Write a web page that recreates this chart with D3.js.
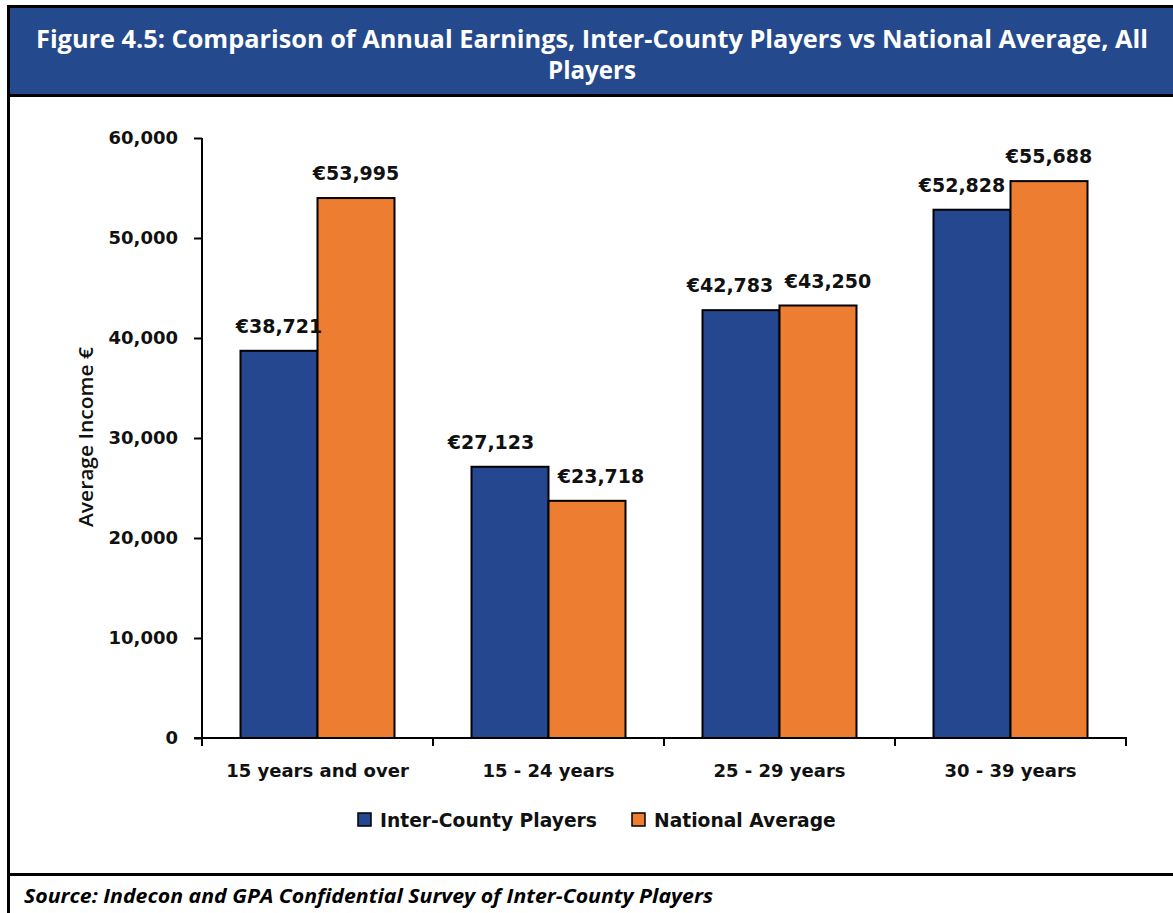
<!DOCTYPE html>
<html>
<head>
<meta charset="utf-8">
<script src="https://cdn.jsdelivr.net/npm/d3@7"></script>
<style>
  html, body { margin: 0; padding: 0; background: #ffffff; }
  svg { display: block; }
</style>
</head>
<body>
<svg id="chart" width="1173" height="913"></svg>
<script>
// Age bands and average annual earnings (EUR)
const categories = ["15 years and over", "15 - 24 years", "25 - 29 years", "30 - 39 years"];
const seriesNames = ["Inter-County Players", "National Average"];
const interCounty = [38721, 27123, 42783, 52828];
const nationalAvg = [53995, 23718, 43250, 55688];
const yTicks = [0, 10000, 20000, 30000, 40000, 50000, 60000];

const titleLines = [
  "Figure 4.5: Comparison of Annual Earnings, Inter-County Players vs National Average, All",
  "Players"
];
const sourceText = "Source: Indecon and GPA Confidential Survey of Inter-County Players";
const yAxisTitle = "Average Income \u20AC";

// Horizontal nudges for value labels so neighbouring labels do not collide
const labelShift = [[0, 0], [-19, 14], [-11, 10], [-10, 0]];

const colors = ["#25478F", "#ED7D31"];
const headerBlue = "#24498C";
const numFont = "'DejaVu Sans', Verdana, sans-serif";
const textFont = "'Open Sans', 'Noto Sans', sans-serif";

const svg = d3.select("#chart");

// ---- frame and header band ----
svg.append("rect").attr("x", 10).attr("y", 8).attr("width", 1163).attr("height", 87).attr("fill", headerBlue);
svg.append("rect").attr("x", 7).attr("y", 5).attr("width", 1166).attr("height", 3).attr("fill", "#000");
svg.append("rect").attr("x", 7).attr("y", 5).attr("width", 3).attr("height", 908).attr("fill", "#000");
svg.append("rect").attr("x", 7).attr("y", 94).attr("width", 1166).attr("height", 3).attr("fill", "#000");
svg.append("rect").attr("x", 7).attr("y", 873).attr("width", 1166).attr("height", 3).attr("fill", "#000");

const title = svg.append("g");
titleLines.forEach((line, i) => {
  const t = title.append("text")
    .attr("x", 592).attr("y", 48 + i * 31)
    .attr("text-anchor", "middle")
    .attr("fill", "#ffffff")
    .style("font-family", textFont)
    .style("font-weight", 700)
    .style("font-size", "25px")
    .text(line);
  if (i === 0) t.attr("textLength", 1112).attr("lengthAdjust", "spacingAndGlyphs");
  else t.attr("textLength", 88).attr("lengthAdjust", "spacingAndGlyphs");
});

// ---- scales ----
const plotLeft = 202, plotRight = 1126, plotTop = 138, plotBottom = 738;
const y = d3.scaleLinear().domain([0, 60000]).range([plotBottom, plotTop]);
const x0 = d3.scaleBand().domain(categories).range([plotLeft, plotRight])
  .paddingInner(1 / 3).paddingOuter(1 / 6);
const x1 = d3.scaleBand().domain(seriesNames).range([0, x0.bandwidth()]).padding(0);

const rows = categories.map((c, i) => ({
  category: c,
  idx: i,
  values: [
    { series: seriesNames[0], value: interCounty[i], s: 0 },
    { series: seriesNames[1], value: nationalAvg[i], s: 1 }
  ]
}));

// ---- bars ----
const groups = svg.append("g").selectAll("g").data(rows).join("g")
  .attr("transform", d => `translate(${x0(d.category)},0)`);

groups.selectAll("rect").data(d => d.values).join("rect")
  .attr("x", d => x1(d.series))
  .attr("y", d => y(d.value))
  .attr("width", x1.bandwidth())
  .attr("height", d => y(0) - y(d.value))
  .attr("fill", d => colors[d.s])
  .attr("stroke", "#000")
  .attr("stroke-width", 2);

// ---- value labels ----
const euro = d3.format(",");
groups.each(function (row) {
  d3.select(this).selectAll("text.val").data(row.values).join("text")
    .attr("class", "val")
    .attr("x", d => x1(d.series) + x1.bandwidth() / 2 + labelShift[row.idx][d.s])
    .attr("y", d => y(d.value) - 18)
    .attr("text-anchor", "middle")
    .attr("fill", "#111")
    .style("font-family", numFont)
    .style("font-weight", 700)
    .style("font-size", "19px")
    .text(d => "\u20AC" + euro(d.value));
});

// ---- y axis ----
const yAxis = svg.append("g")
  .attr("transform", `translate(${plotLeft},0)`)
  .call(d3.axisLeft(y).tickValues(yTicks).tickSize(8).tickPadding(16).tickFormat(d3.format(",")));
yAxis.select(".domain").attr("stroke", "#000").attr("stroke-width", 2).attr("d", `M0,${plotTop}V${plotBottom}`);
yAxis.selectAll(".tick line").attr("stroke", "#000").attr("stroke-width", 2);
yAxis.selectAll(".tick text")
  .attr("fill", "#111")
  .style("font-family", numFont)
  .style("font-weight", 700)
  .style("font-size", "18px");

svg.append("text")
  .attr("transform", `translate(93,437) rotate(-90)`)
  .attr("text-anchor", "middle")
  .attr("fill", "#111")
  .style("font-family", textFont)
  .style("font-weight", 600)
  .style("font-size", "20px")
  .attr("textLength", 180)
  .attr("lengthAdjust", "spacingAndGlyphs")
  .text(yAxisTitle);

// ---- x axis: baseline with tick marks between categories ----
const xAxis = svg.append("g");
xAxis.append("line")
  .attr("x1", plotLeft - 8).attr("x2", plotRight + 1)
  .attr("y1", plotBottom).attr("y2", plotBottom)
  .attr("stroke", "#000").attr("stroke-width", 2);
const boundaries = d3.range(categories.length + 1).map(i => plotLeft + i * x0.step());
xAxis.selectAll("line.tick").data(boundaries).join("line")
  .attr("class", "tick")
  .attr("x1", d => d).attr("x2", d => d)
  .attr("y1", plotBottom).attr("y2", plotBottom + 8)
  .attr("stroke", "#000").attr("stroke-width", 2);
xAxis.selectAll("text").data(categories).join("text")
  .attr("x", d => x0(d) + x0.bandwidth() / 2)
  .attr("y", plotBottom + 39)
  .attr("text-anchor", "middle")
  .attr("fill", "#111")
  .style("font-family", numFont)
  .style("font-weight", 700)
  .style("font-size", "18px")
  .text(d => d);

// ---- legend ----
const legendItems = [
  { name: seriesNames[0], x: 358, color: colors[0] },
  { name: seriesNames[1], x: 632, color: colors[1] }
];
const legend = svg.append("g").selectAll("g").data(legendItems).join("g")
  .attr("transform", d => `translate(${d.x},813)`);
legend.append("rect")
  .attr("width", 13).attr("height", 13)
  .attr("fill", d => d.color).attr("stroke", "#000").attr("stroke-width", 1.5);
legend.append("text")
  .attr("x", 22).attr("y", 13.5)
  .attr("fill", "#111")
  .style("font-family", numFont)
  .style("font-weight", 700)
  .style("font-size", "18.7px")
  .text(d => d.name);

// ---- source note ----
svg.append("text")
  .attr("x", 24).attr("y", 903)
  .attr("fill", "#000")
  .style("font-family", textFont)
  .style("font-weight", 700)
  .style("font-style", "italic")
  .style("font-size", "19.5px")
  .attr("textLength", 689)
  .attr("lengthAdjust", "spacingAndGlyphs")
  .text(sourceText);
</script>
</body>
</html>
